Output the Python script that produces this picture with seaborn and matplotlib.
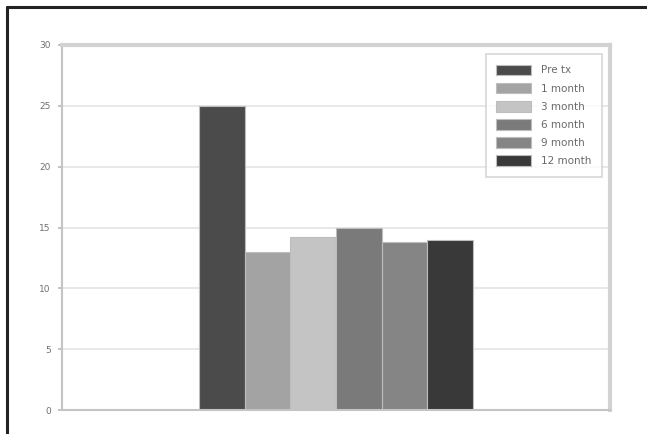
import matplotlib
matplotlib.use("Agg")
import matplotlib.pyplot as plt
import seaborn as sns
import pandas as pd

groups = ["Pre tx", "1 month", "3 month", "6 month", "9 month", "12 month"]
values = [25.0, 13.0, 14.2, 15.0, 13.8, 14.0]
colors = ["#4b4b4b", "#a3a3a3", "#c4c4c4", "#7a7a7a", "#858585", "#393939"]
yticks = [0, 5, 10, 15, 20, 25, 30]

df = pd.DataFrame({"cat": [""] * len(groups), "group": groups, "value": values})

sns.set_theme(style="white")
plt.rcParams["font.family"] = ["DejaVu Sans"]

fig = plt.figure(figsize=(6.47, 4.34), dpi=100)
ax = fig.add_axes([62 / 647, 1 - 410 / 434, (610 - 62) / 647, (410 - 45) / 434])

sns.barplot(data=df, x="cat", y="value", hue="group", hue_order=groups,
            palette=colors, width=0.5, dodge=True, ax=ax, saturation=1,
            edgecolor="#bdbdbd", linewidth=0.8, legend=True)

ax.set_xlim(-0.5, 0.5)
ax.set_ylim(0, 30)
ax.set_yticks(yticks)
ax.set_yticklabels([str(t) for t in yticks], fontsize=6.5, color="#707070")
ax.set_xticks([])
ax.set_xlabel("")
ax.set_ylabel("")
ax.yaxis.grid(True, color="#e4e4e4", linewidth=1.2)
ax.set_axisbelow(True)
ax.tick_params(axis="y", length=3, color="#bbbbbb", pad=5)
ax.tick_params(axis="y", left=True)
for side in ["left", "bottom"]:
    ax.spines[side].set_color("#c4c4c4")
    ax.spines[side].set_linewidth(1.5)
for side in ["top", "right"]:
    ax.spines[side].set_color("#d2d2d2")
    ax.spines[side].set_linewidth(3)

leg = ax.legend(loc="upper right", bbox_to_anchor=(0.985, 0.975), fontsize=7.5,
                frameon=True, fancybox=False, edgecolor="#cccccc",
                handlelength=3.3, handleheight=1.2, labelspacing=0.7,
                handletextpad=1.0, borderpad=1.0, borderaxespad=0.0,
                labelcolor="#6a6a6a")
leg.get_frame().set_linewidth(1.2)

# outer figure frame (top and left dark edges)
fig.add_artist(plt.Line2D([7 / 647, 1], [1 - 7 / 434, 1 - 7 / 434],
                          transform=fig.transFigure, color="#222222", linewidth=2.2))
fig.add_artist(plt.Line2D([7 / 647, 7 / 647], [0, 1 - 7 / 434],
                          transform=fig.transFigure, color="#222222", linewidth=2.2))

fig.savefig("out.png", dpi=100)
